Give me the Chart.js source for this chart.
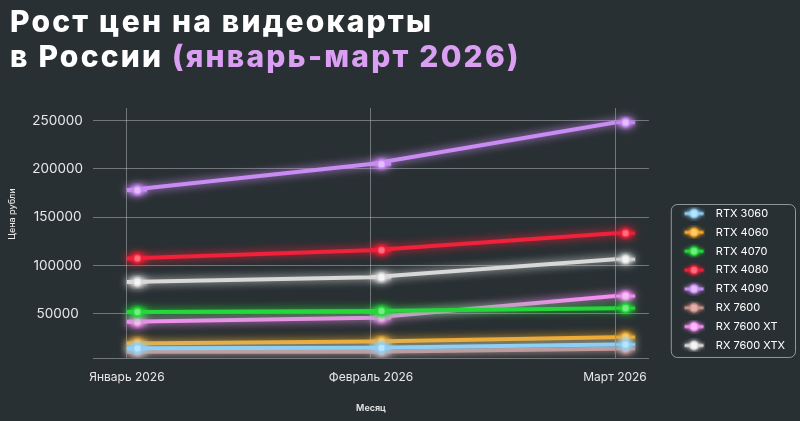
<!DOCTYPE html>
<html lang="ru">
<head>
<meta charset="utf-8">
<title>Рост цен на видеокарты в России</title>
<script src="https://cdn.jsdelivr.net/npm/chart.js@4.4.1/dist/chart.umd.min.js"></script>
<style>
  html, body { margin: 0; padding: 0; }
  body {
    width: 800px; height: 421px; overflow: hidden;
    background: #293033;
    font-family: Inter, "Open Sans", sans-serif;
    position: relative;
  }
  #title {
    position: absolute; left: 10px; top: 4px; z-index: 2;
    color: #ffffff; font-size: 30px; font-weight: 800; line-height: 34.5px;
    letter-spacing: 2.2px;
  }
  #title span { color: #da9ef2; }
  #wrap { position: absolute; left: 0; top: 0; width: 800px; height: 421px; }
</style>
</head>
<body>
<div id="title">Рост цен на видеокарты<br>в России <span>(январь-март 2026)</span></div>
<div id="wrap"><canvas id="myChart"></canvas></div>
<script>
// data
var months = ["Январь 2026", "Февраль 2026", "Март 2026"];
var seriesNames = ["RTX 3060", "RTX 4060", "RTX 4070", "RTX 4080", "RTX 4090", "RX 7600", "RX 7600 XT", "RX 7600 XTX"];
var rtx3060 = [14500, 15000, 18500];
var rtx4060 = [19500, 21500, 26000];
var rtx4070 = [52000, 53000, 56000];
var rtx4080 = [107500, 116000, 133500];
var rtx4090 = [178000, 205000, 248000];
var rx7600 = [11000, 11000, 14000];
var rx7600xt = [42000, 46000, 68500];
var rx7600xtx = [83000, 88000, 106500];
var yTicks = [50000, 100000, 150000, 200000, 250000];

var seriesValues = [rtx3060, rtx4060, rtx4070, rtx4080, rtx4090, rx7600, rx7600xt, rx7600xtx];
var lineColors = ["#8ecff5", "#f7a825", "#25d83a", "#f0213a", "#c98cf2", "#c98f88", "#f58ef2", "#d8d8d8"];
var dotColors  = ["#c9ecff", "#ffd98a", "#8ef59a", "#ff8a96", "#ead0ff", "#e8c0ba", "#ffd0fc", "#ffffff"];

// little line+dot picture for the legend
function legendMark(line, dot) {
  var c = document.createElement("canvas");
  c.width = 42; c.height = 14;
  var g = c.getContext("2d");
  g.shadowColor = line; g.shadowBlur = 4;
  g.strokeStyle = line; g.lineWidth = 3;
  g.beginPath(); g.moveTo(22, 7); g.lineTo(41, 7); g.stroke();
  g.fillStyle = dot;
  g.beginPath(); g.arc(31.5, 7, 4, 0, Math.PI * 2); g.fill();
  g.strokeStyle = line; g.lineWidth = 1.5; g.stroke();
  return c;
}

var datasets = seriesNames.map(function (name, i) {
  return {
    label: name,
    data: seriesValues[i].map(function (v, k) { return {x: k, y: v}; }),
    borderColor: lineColors[i],
    backgroundColor: lineColors[i],
    borderWidth: 4,
    pointRadius: 5,
    pointBackgroundColor: dotColors[i],
    pointBorderColor: lineColors[i],
    pointBorderWidth: 2,
    pointStyle: legendMark(lineColors[i], dotColors[i]),
    tension: 0
  };
});

// glow around each line
var glow = {
  id: "glow",
  beforeDatasetDraw: function (chart, args) {
    var ctx = chart.ctx;
    ctx.save();
    ctx.shadowColor = args.meta.dataset.options.borderColor;
    ctx.shadowBlur = 9;
  },
  afterDatasetDraw: function (chart) { chart.ctx.restore(); }
};

// frame around the legend and the rotated y title
var extras = {
  id: "extras",
  afterDraw: function (chart) {
    var ctx = chart.ctx;
    var boxes = chart.legend.legendHitBoxes;
    if (boxes && boxes.length) {
      var l = boxes[0].left + 14, t = boxes[0].top - 4;
      var last = boxes[boxes.length - 1];
      var r = 795, b = last.top + last.height + 6;
      ctx.save();
      ctx.strokeStyle = "rgba(190,195,198,0.7)";
      ctx.lineWidth = 1;
      ctx.beginPath();
      ctx.roundRect(l + 0.5, t + 0.5, r - l, b - t, 6);
      ctx.stroke();
      ctx.restore();
    }
    ctx.save();
    ctx.translate(12, 214);
    ctx.rotate(-Math.PI / 2);
    ctx.fillStyle = "#e8e8e8";
    ctx.font = "500 9px Inter";
    ctx.textAlign = "center";
    ctx.textBaseline = "middle";
    ctx.fillText("Цена рубли", 0, 0);
    ctx.restore();
  }
};

Chart.defaults.font.family = "Inter";
Chart.defaults.color = "#e8e8e8";

var ctx = document.getElementById("myChart").getContext("2d");
var myChart = new Chart(ctx, {
  type: "line",
  data: { datasets: datasets },
  plugins: [glow, extras],
  options: {
    responsive: true,
    maintainAspectRatio: false,
    animation: false,
    layout: { padding: { top: 108, left: 32, right: 5, bottom: 0 } },
    plugins: {
      tooltip: { enabled: false },
      legend: {
        position: "right",
        align: "center",
        title: { display: true, text: " ", font: { size: 10 }, padding: { top: 9, bottom: 9 } },
        labels: {
          usePointStyle: true,
          pointStyleWidth: 53.5,
          padding: 7.85,
          color: "#ffffff",
          font: { size: 11, family: "Inter" }
        }
      }
    },
    scales: {
      x: {
        type: "linear",
        min: -0.139,
        max: 2.139,
        afterBuildTicks: function (s) { s.ticks = months.map(function (m, i) { return {value: i}; }); },
        afterFit: function (s) { s.height = 63; },
        ticks: {
          padding: 12,
          font: { size: 12 },
          color: "#e8e8e8",
          callback: function (v) { return months[v]; }
        },
        grid: { color: "rgba(200,205,208,0.45)", lineWidth: 1, drawTicks: false },
        border: { display: true, color: "rgba(200,205,208,0.45)" },
        title: { display: true, text: "Месяц", color: "#e8e8e8", font: { size: 9, weight: "600" }, padding: { top: 0, bottom: 7.6 } }
      },
      y: {
        min: 4500,
        max: 263000,
        afterBuildTicks: function (s) { s.ticks = yTicks.map(function (v) { return {value: v}; }); },
        afterFit: function (s) { s.width = 61; },
        ticks: {
          padding: 10,
          crossAlign: "center",
          font: { size: 13.5 },
          color: "#e8e8e8",
          callback: function (v) { return String(v); }
        },
        grid: { color: "rgba(200,205,208,0.45)", lineWidth: 1, drawTicks: false },
        border: { display: false }
      }
    }
  }
});
</script>
</body>
</html>
